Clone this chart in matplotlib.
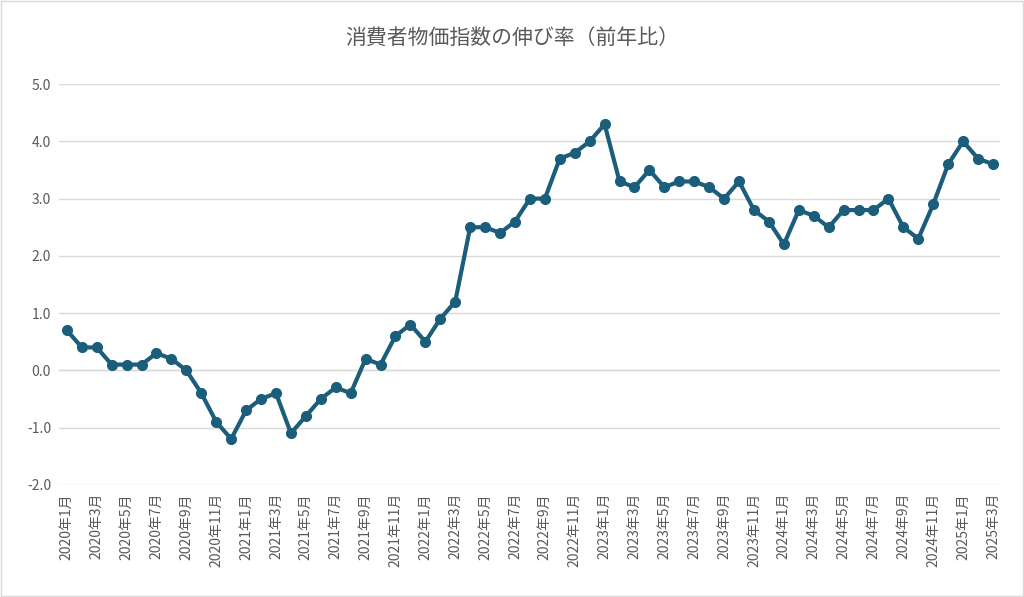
import matplotlib
matplotlib.use("Agg")
import matplotlib.pyplot as plt
from matplotlib.patches import Rectangle

plt.rcParams['font.family'] = ['Noto Sans CJK JP']

months = [f"{y}年{m}月" for y in range(2020, 2026) for m in range(1, 13)][:63]
values = [0.7,0.4,0.4,0.1,0.1,0.1,0.3,0.2,0.0,-0.4,-0.9,-1.2,
          -0.7,-0.5,-0.4,-1.1,-0.8,-0.5,-0.3,-0.4,0.2,0.1,0.6,0.8,
          0.5,0.9,1.2,2.5,2.5,2.4,2.6,3.0,3.0,3.7,3.8,4.0,
          4.3,3.3,3.2,3.5,3.2,3.3,3.3,3.2,3.0,3.3,2.8,2.6,
          2.2,2.8,2.7,2.5,2.8,2.8,2.8,3.0,2.5,2.3,2.9,3.6,
          4.0,3.7,3.6]
yticks = [-2.0,-1.0,0.0,1.0,2.0,3.0,4.0,5.0]
title = "消費者物価指数の伸び率（前年比）"

fig = plt.figure(figsize=(10.24, 5.97), dpi=100)
ax = fig.add_axes([0.058, 0.188, 0.919, 0.671])
x = list(range(len(values)))
ax.plot(x, values, color="#1b5e7b", lw=3, marker="o", ms=7, zorder=3)
ax.set_xlim(-0.5, len(values)-0.5)
ax.set_ylim(-2.0, 5.0)
ax.set_yticks(yticks)
ax.set_yticklabels([f"{v:.1f}" for v in yticks], color="#595959", fontsize=10)
ax.set_xticks(x[::2])
ax.set_xticklabels(months[::2], rotation=90, color="#595959", fontsize=10)
ax.grid(axis="y", color="#d9d9d9", lw=1)
ax.set_axisbelow(True)
for s in ["top", "right", "left"]:
    ax.spines[s].set_visible(False)
ax.spines["bottom"].set_visible(False)
ax.axhline(0, color="#d9d9d9", lw=1, zorder=1)
ax.tick_params(axis="both", length=0, pad=6)
fig.text(0.5, 0.935, title, ha="center", va="center", fontsize=15, color="#595959")
fig.patches.append(Rectangle((0.001, 0.001), 0.998, 0.998, transform=fig.transFigure,
                             fill=False, edgecolor="#d9d9d9", lw=1))
fig.savefig("out.png", dpi=100)
